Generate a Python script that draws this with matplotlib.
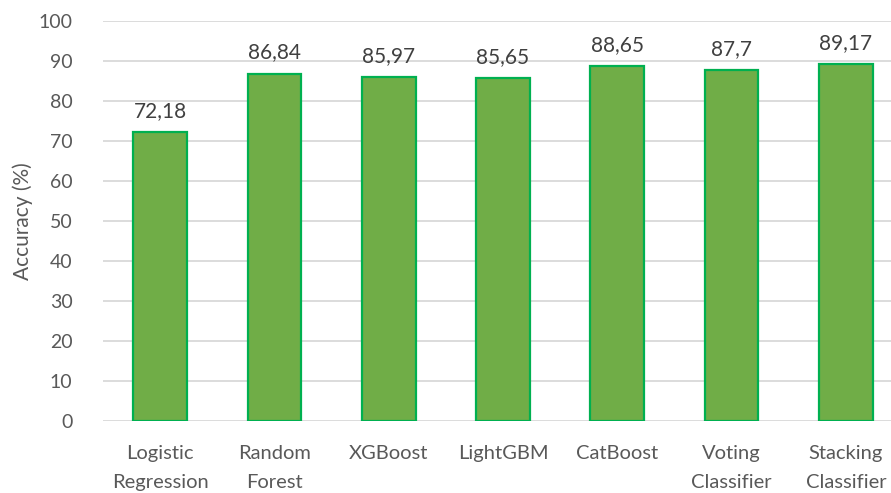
import matplotlib
matplotlib.use('Agg')
from matplotlib import pyplot as plt
import numpy as np

models = ['Logistic\nRegression', 'Random\nForest', 'XGBoost', 'LightGBM',
          'CatBoost', 'Voting\nClassifier', 'Stacking\nClassifier']
accuracy = [72.18, 86.84, 85.97, 85.65, 88.65, 87.7, 89.17]
value_labels = ['72,18', '86,84', '85,97', '85,65', '88,65', '87,7', '89,17']
yticks = [0, 10, 20, 30, 40, 50, 60, 70, 80, 90, 100]

plt.rcParams['font.family'] = ['Lato', 'DejaVu Sans']
txt = '#595959'

fig = plt.figure(figsize=(8.91, 4.93), dpi=100)
ax = fig.add_axes([103/891, 1 - 421/493, 800/891, 400/493])

x = np.arange(len(models))
bars = ax.bar(x, accuracy, width=0.47, color='#70AD47', edgecolor='#00B050',
              linewidth=1.6, zorder=3)

for b, lab in zip(bars, value_labels):
    ax.annotate(lab, (b.get_x() + b.get_width()/2, b.get_height()),
                xytext=(0, 8), textcoords='offset points', ha='center',
                va='bottom', fontsize=15, color='#404040')

ax.set_xlim(-0.5, len(models) - 0.5)
ax.set_ylim(0, 100)
ax.set_yticks(yticks)
ax.set_xticks(x)
ax.set_xticklabels(models, fontsize=14.5, color=txt)
ax.tick_params(axis='y', labelsize=14, labelcolor=txt, length=0, pad=22)
ax.tick_params(axis='x', length=0, pad=17)
for t in ax.get_xticklabels():
    t.set_linespacing(1.85)
ax.grid(axis='y', color='#D9D9D9', linewidth=1.3, zorder=0)
for s in ax.spines.values():
    s.set_visible(False)
ax.set_ylabel('Accuracy (%)', fontsize=15, color=txt, labelpad=4)

fig.savefig('out.png', dpi=100)
